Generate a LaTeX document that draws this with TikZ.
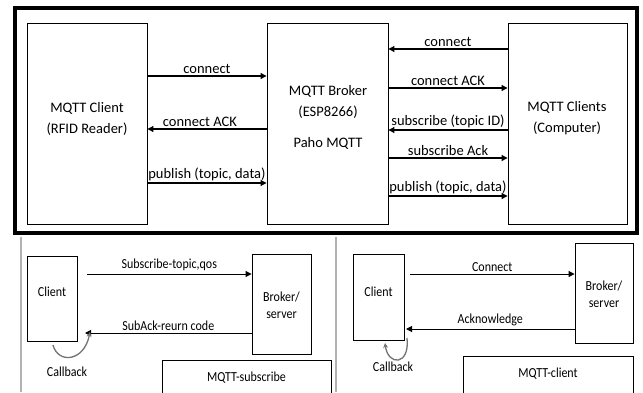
\documentclass[tikz,border=0pt]{standalone}
\usepackage{fontspec}
\setmainfont{Carlito}
\usetikzlibrary{arrows.meta}
\begin{document}
\begin{tikzpicture}[x=1bp,y=-1bp,
  box/.style={draw=black, line width=0.9bp, inner sep=0pt},
  txt/.style={font=\fontsize{14.5bp}{21bp}\selectfont, align=center, inner sep=0pt},
  stxt/.style={font=\fontsize{12bp}{15bp}\selectfont, align=center, inner sep=0pt, yscale=1.15, transform shape},
  arr/.style={-{Triangle[length=6bp,width=6bp]}, line width=1.1bp},
  lab/.style={above, font=\fontsize{14.5bp}{16bp}\selectfont, inner sep=1.5bp},
  slab/.style={above, font=\fontsize{12bp}{14bp}\selectfont, inner sep=2bp, yscale=1.15, transform shape},
  cb/.style={-{Stealth[open,length=5bp,width=5bp]}, draw=black!55, line width=1.3bp}]
\useasboundingbox (0,0) rectangle (643,392);
\fill[white] (0,0) rectangle (643,392);
% outer frame
\draw[line width=3.5bp] (15,8) rectangle (637,233);
% gray dividers
\draw[black!30, line width=1.2bp] (21,237) -- (21,392);
\draw[black!30, line width=1.2bp] (336,237) -- (336,392);
% top boxes
\node[box, minimum width=120bp, minimum height=201bp] (cl) at (87,123.5) {};
\node[box, minimum width=121bp, minimum height=201bp] (br) at (327.5,123.5) {};
\node[box, minimum width=119bp, minimum height=201bp] (cs) at (567.5,123.5) {};
\node[txt] (clt) at (87,119) {MQTT Client\\(RFID Reader)};
\node[txt] (brt) at (328,102) {MQTT Broker\\(ESP8266)};
\node[txt] (brp) at (328,143) {Paho MQTT};
\node[txt] (cst) at (567,118) {MQTT Clients\\(Computer)};
% left arrows
\draw[arr] (cl.east |- 0,76) -- (br.west |- 0,76) node[lab, midway] {connect};
\draw[arr] (br.west |- 0,129) -- (cl.east |- 0,129) node[lab, pos=0.56] {connect ACK};
\draw[arr] (cl.east |- 0,183) -- (br.west |- 0,183) node[lab, midway] {publish (topic, data)};
% right arrows
\draw[arr] (cs.west |- 0,49) -- (br.east |- 0,49) node[lab, midway] {connect};
\draw[arr] (br.east |- 0,88) -- (cs.west |- 0,88) node[lab, midway] {connect ACK};
\draw[arr] (cs.west |- 0,130) -- (br.east |- 0,130) node[lab, midway] {subscribe (topic ID)};
\draw[arr] (br.east |- 0,158) -- (cs.west |- 0,158) node[lab, midway] {subscribe Ack};
\draw[arr] (br.east |- 0,196) -- (cs.west |- 0,196) node[lab, midway] {publish (topic, data)};
% bottom left
\node[box, minimum width=50bp, minimum height=85bp] (c1) at (52,298.5) {};
\node[stxt] (c1t) at (52,292) {Client};
\node[box, minimum width=59bp, minimum height=100bp] (b1) at (281.5,304) {};
\node[stxt] (b1t) at (281.5,305) {Broker/\\server};
\node[box, minimum width=169bp, minimum height=40bp] (m1) at (246.5,380) {};
\node[stxt] (m1t) at (246.5,378) {MQTT-subscribe};
\coordinate (s1) at (87,274);
\coordinate (e1) at (85,333);
\draw[arr, line width=1bp] (s1) -- (b1.west |- s1) node[slab, midway] {Subscribe-topic,qos};
\draw[arr, line width=1bp] (b1.west |- e1) -- (e1) node[slab, midway] {SubAck-reurn code};
\coordinate (cb1s) at (53,345);
\coordinate (cb1e) at (90,332);
\draw[cb] (cb1s) .. controls (58,364) and (84,362) .. (cb1e);
\node[stxt] (cb1) at (67,372) {Callback};
% bottom right
\node[box, minimum width=51bp, minimum height=86bp] (c2) at (378.5,297) {};
\node[stxt] (c2t) at (378.5,292) {Client};
\node[box, minimum width=58bp, minimum height=100bp] (b2) at (604,293) {};
\node[stxt] (b2t) at (604,294) {Broker/\\server};
\node[box, minimum width=170bp, minimum height=38bp] (m2) at (548,375) {};
\node[stxt] (m2t) at (548,374) {MQTT-client};
\coordinate (s2) at (410,274);
\coordinate (e2) at (406,329);
\draw[arr, line width=1bp] (s2) -- (b2.west |- s2) node[slab, midway] {Connect};
\draw[arr, line width=1bp] (b2.west |- e2) -- (e2) node[slab, midway] {Acknowledge};
\coordinate (cb2s) at (407,338);
\coordinate (cb2e) at (385,343);
\draw[cb] (cb2s) .. controls (410,366) and (388,366) .. (cb2e);
\node[stxt] (cb2) at (393,367) {Callback};
\end{tikzpicture}
\end{document}
